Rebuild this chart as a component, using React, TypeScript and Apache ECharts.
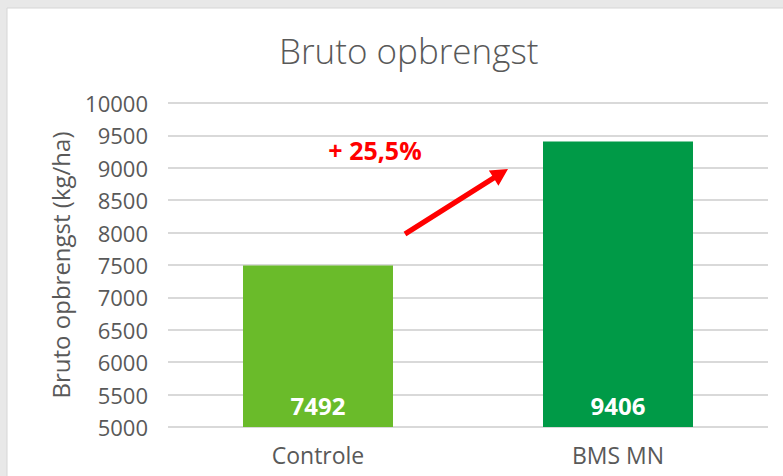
import React, { useEffect, useRef } from "react";
import * as echarts from "echarts";

const categories = ["Controle", "BMS MN"];
const values = [7492, 9406];
const barColors = ["#6abb2a", "#009a47"];
const yMin = 5000;
const yMax = 10000;
const yInterval = 500;
const titleText = "Bruto opbrengst";
const yAxisName = "Bruto opbrengst (kg/ha)";
const annotationText = "+ 25,5%";

export default function App() {
  const ref = useRef<HTMLDivElement>(null);
  useEffect(() => {
    if (!ref.current) return;
    const chart = echarts.init(ref.current, null, { renderer: "svg" });
    const font = "'Open Sans', 'Noto Sans', sans-serif";
    // arrow geometry
    const tail = [405, 234];
    const tip = [508, 169];
    const dx = tip[0] - tail[0];
    const dy = tip[1] - tail[1];
    const len = Math.sqrt(dx * dx + dy * dy);
    const ux = dx / len, uy = dy / len;
    const nx = -uy, ny = ux;
    const hl = 17, hw = 9, sw = 2.6;
    const base = [tip[0] - ux * hl, tip[1] - uy * hl];
    const arrowPts = [
      [tail[0] + nx * sw, tail[1] + ny * sw],
      [base[0] + nx * sw, base[1] + ny * sw],
      [base[0] + nx * hw, base[1] + ny * hw],
      [tip[0], tip[1]],
      [base[0] - nx * hw, base[1] - ny * hw],
      [base[0] - nx * sw, base[1] - ny * sw],
      [tail[0] - nx * sw, tail[1] - ny * sw],
    ];
    chart.setOption({
      animation: false,
      backgroundColor: "#e8e8e8",
      textStyle: { fontFamily: font },
      title: {
        text: titleText,
        left: 274,
        top: 28,
        textStyle: { fontSize: 35, fontWeight: 300, color: "#595959", fontFamily: font },
      },
      grid: { left: 168, right: 15, top: 103, bottom: 49 },
      xAxis: {
        type: "category",
        data: categories,
        axisLine: { show: false },
        axisTick: { show: false },
        axisLabel: { fontSize: 23, color: "#595959", margin: 16, fontFamily: font },
      },
      yAxis: {
        type: "value",
        min: yMin,
        max: yMax,
        interval: yInterval,
        name: yAxisName,
        nameLocation: "middle",
        nameGap: 96,
        nameTextStyle: { fontSize: 24, color: "#595959", fontFamily: font },
        axisLabel: {
          fontSize: 22,
          color: "#595959",
          margin: 20,
          fontFamily: font,
          formatter: (v: number) => String(v),
        },
        splitLine: { lineStyle: { color: "#d9d9d9", width: 2 } },
        axisLine: { show: false },
        axisTick: { show: false },
      },
      graphic: [
        {
          type: "rect",
          z: -10,
          silent: true,
          shape: { x: 7, y: 8, width: 800, height: 500 },
          style: { fill: "#ffffff", stroke: "#d6d6d6", lineWidth: 1 },
        },
        {
          type: "text",
          z: 100,
          x: 375,
          y: 150,
          style: {
            text: annotationText,
            fill: "#ff0000",
            font: "bold 25px 'Open Sans', 'Noto Sans', sans-serif",
            textAlign: "center",
            textVerticalAlign: "middle",
          },
        },
        {
          type: "polygon",
          z: 100,
          shape: { points: arrowPts },
          style: { fill: "#ff0000" },
        },
      ],
      series: [
        {
          type: "bar",
          barWidth: "50%",
          data: values.map((v, i) => ({ value: v, itemStyle: { color: barColors[i] } })),
          label: {
            show: true,
            position: "insideBottom",
            distance: 10,
            color: "#ffffff",
            fontSize: 24,
            fontWeight: "bold",
            fontFamily: font,
          },
        },
      ],
    });
    return () => chart.dispose();
  }, []);
  return (
    <div
      ref={ref}
      style={{ position: "fixed", left: 0, top: 0, width: 783, height: 476 }}
    />
  );
}
